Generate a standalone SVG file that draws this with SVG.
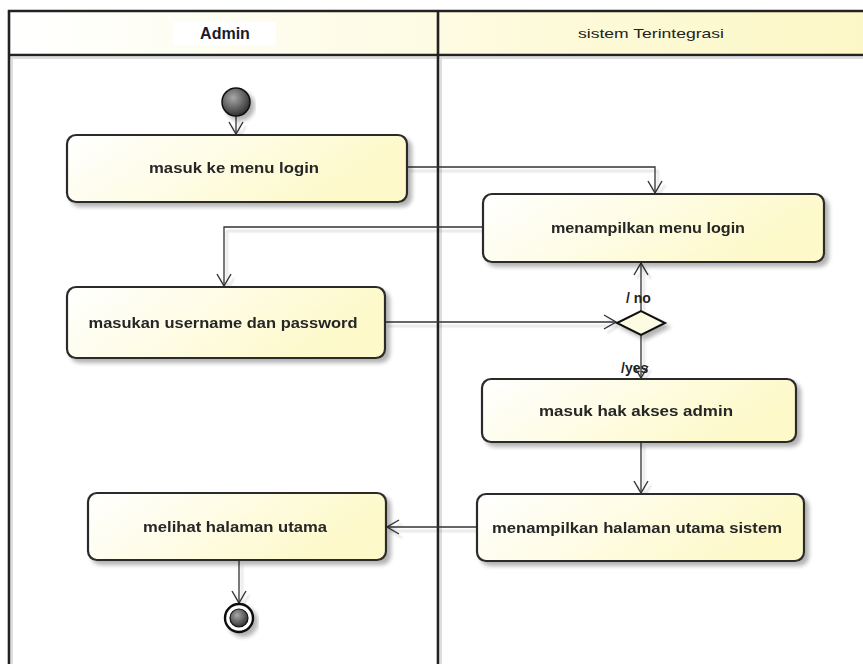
<svg xmlns="http://www.w3.org/2000/svg" width="863" height="664" viewBox="0 0 863 664">
<defs>
<linearGradient id="gNode" x1="0" y1="0" x2="1" y2="0.3">
<stop offset="0" stop-color="#ffffff"/>
<stop offset="1" stop-color="#fdf9c9"/>
</linearGradient>
<linearGradient id="gHead" x1="0" y1="0" x2="1" y2="0">
<stop offset="0" stop-color="#ffffff"/>
<stop offset="1" stop-color="#fcf7c5"/>
</linearGradient>
<radialGradient id="gStart" cx="0.4" cy="0.35" r="0.7">
<stop offset="0" stop-color="#a8a8a8"/>
<stop offset="1" stop-color="#2a2a2a"/>
</radialGradient>
<filter id="shadow" x="-10%" y="-10%" width="130%" height="140%">
<feGaussianBlur in="SourceAlpha" stdDeviation="2"/>
<feOffset dx="4" dy="4" result="b"/>
<feComponentTransfer><feFuncA type="linear" slope="0.3"/></feComponentTransfer>
<feMerge><feMergeNode/><feMergeNode in="SourceGraphic"/></feMerge>
</filter>
<filter id="lshadow" x="-5%" y="-5%" width="110%" height="110%">
<feOffset in="SourceAlpha" dx="3" dy="4"/>
<feGaussianBlur stdDeviation="0.8"/>
<feComponentTransfer><feFuncA type="linear" slope="0.18"/></feComponentTransfer>
<feMerge><feMergeNode/><feMergeNode in="SourceGraphic"/></feMerge>
</filter>
<marker id="arr" viewBox="0 0 14 16" refX="13" refY="8" markerWidth="14" markerHeight="16" markerUnits="userSpaceOnUse" orient="auto">
<path d="M1,1 L13,8 L1,15" fill="none" stroke="#333" stroke-width="1.4"/>
</marker>
</defs>
<style>
.node{fill:url(#gNode);stroke:#2b2b2b;stroke-width:2.2}
.lbl{font-family:"Liberation Sans",Arial,sans-serif;font-weight:bold;font-size:15px;fill:#262626;text-anchor:middle}
.edge{fill:none;stroke:#333;stroke-width:1.3;marker-end:url(#arr)}
.lane{stroke:#222;stroke-width:2.6;fill:none}
.guard{font-family:"Liberation Sans",Arial,sans-serif;font-weight:bold;font-size:14px;fill:#222}
</style>
<rect x="0" y="0" width="863" height="664" fill="#ffffff"/>
<g id="swimlanes">
<rect x="9" y="11" width="860" height="44" fill="url(#gHead)"/>
<line x1="9" y1="58" x2="863" y2="58" stroke="#ddd" stroke-width="2"/>
<line x1="12" y1="58" x2="12" y2="664" stroke="#ddd" stroke-width="2"/>
<line x1="441" y1="58" x2="441" y2="664" stroke="#ddd" stroke-width="2"/>
<line class="lane" x1="8" y1="11" x2="863" y2="11"/>
<line class="lane" x1="8" y1="55" x2="863" y2="55"/>
<line class="lane" x1="9" y1="10" x2="9" y2="664"/>
<line class="lane" x1="438" y1="10" x2="438" y2="664"/>
<rect x="173" y="22" width="103" height="23" fill="#ffffff"/>
<text x="225" y="39" font-family="'Liberation Sans',Arial,sans-serif" font-weight="bold" font-size="16" fill="#1a1a2e" text-anchor="middle">Admin</text>
<text x="651" y="38" font-family="'Liberation Sans',Arial,sans-serif" font-size="13" fill="#222" text-anchor="middle" textLength="146" lengthAdjust="spacingAndGlyphs">sistem Terintegrasi</text>
</g>
<g id="edges" filter="url(#lshadow)">
<path class="edge" d="M236,116 L236,134"/>
<path class="edge" d="M407,167 L655,167 L655,193"/>
<path class="edge" d="M483,227 L224,227 L224,286"/>
<path class="edge" d="M385,322 L616,322"/>
<path class="edge" d="M641,311 L641,263"/>
<path class="edge" d="M641,335 L641,378"/>
<path class="edge" d="M641,442 L641,493"/>
<path class="edge" d="M477,527 L387,527"/>
<path class="edge" d="M239,561 L239,603"/>
</g>
<g id="start" filter="url(#shadow)">
<circle cx="236" cy="102" r="14" fill="url(#gStart)" stroke="#111" stroke-width="1.5"/>
</g>
<g id="n1" filter="url(#shadow)">
<rect class="node" x="67" y="135" width="340" height="67" rx="9"/>
<text class="lbl" x="234" y="173" textLength="170" lengthAdjust="spacingAndGlyphs">masuk ke menu login</text>
</g>
<g id="n2" filter="url(#shadow)">
<rect class="node" x="483" y="194" width="341" height="68" rx="9"/>
<text class="lbl" x="648" y="233" textLength="194" lengthAdjust="spacingAndGlyphs">menampilkan menu login</text>
</g>
<g id="n3" filter="url(#shadow)">
<rect class="node" x="67" y="287" width="318" height="71" rx="9"/>
<text class="lbl" x="223" y="328" textLength="269" lengthAdjust="spacingAndGlyphs">masukan username dan password</text>
</g>
<g id="decision" filter="url(#shadow)">
<polygon points="617,323 641,311 665,323 641,335" fill="#fdfbe2" stroke="#111" stroke-width="2"/>
</g>
<g id="n4" filter="url(#shadow)">
<rect class="node" x="482" y="379" width="314" height="63" rx="9"/>
<text class="lbl" x="636" y="416" textLength="194" lengthAdjust="spacingAndGlyphs">masuk hak akses admin</text>
</g>
<g id="n5" filter="url(#shadow)">
<rect class="node" x="477" y="494" width="327" height="67" rx="9"/>
<text class="lbl" x="637" y="533" textLength="290" lengthAdjust="spacingAndGlyphs">menampilkan halaman utama sistem</text>
</g>
<g id="n6" filter="url(#shadow)">
<rect class="node" x="88" y="493" width="298" height="67" rx="9"/>
<text class="lbl" x="235" y="532" textLength="184" lengthAdjust="spacingAndGlyphs">melihat halaman utama</text>
</g>
<g id="end" filter="url(#shadow)">
<circle cx="239" cy="618" r="14" fill="#ffffff" stroke="#111" stroke-width="2.4"/>
<circle cx="239" cy="618" r="9" fill="url(#gStart)" stroke="#111" stroke-width="1.2"/>
</g>
<g id="guards">
<text class="guard" x="626" y="303">/ no</text>
<text class="guard" x="621" y="373">/yes</text>
</g>
</svg>
